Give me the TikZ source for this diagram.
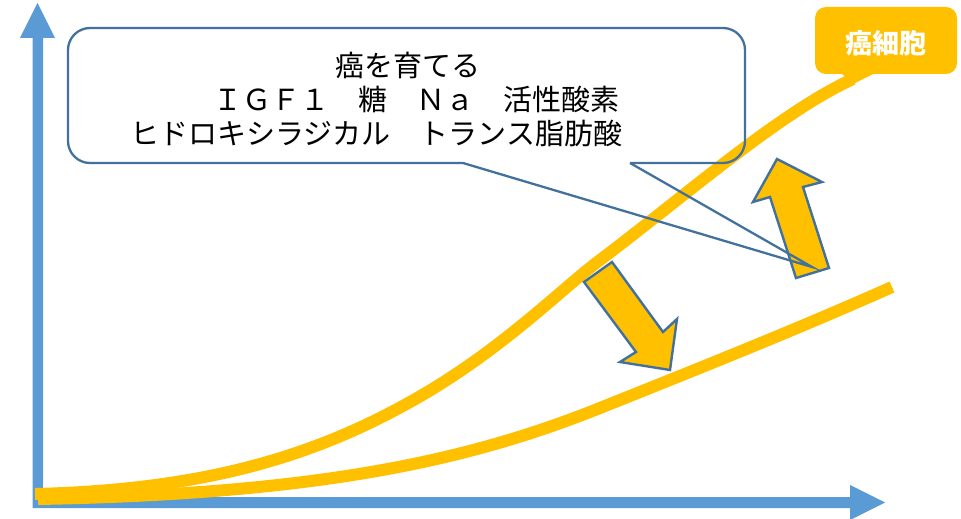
\documentclass[tikz,border=0pt]{standalone}
\usepackage{fontspec}
\newfontfamily\jp{Noto Sans CJK JP}
\definecolor{cyel}{HTML}{FFC000}
\definecolor{caxis}{HTML}{5B9BD5}
\definecolor{cline}{HTML}{41719C}
\tikzset{
  axisarrow/.style={fill=caxis, draw=none},
  growth/.style={draw=cyel, line width=12pt, line cap=butt},
  blockarrow/.style={fill=cyel, draw=cline, line width=2.4pt, line join=miter},
  calloutline/.style={draw=cline, line width=2.3pt},
  bodytext/.style={font=\jp\fontsize{29}{29}\selectfont, inner sep=0pt, anchor=west},
  tagtext/.style={font=\jp\bfseries\fontsize{27}{27}\selectfont, text=white, inner sep=0pt},
}
\begin{document}
\begin{tikzpicture}[x=1pt,y=-1pt]
\useasboundingbox (0,0) rectangle (961,519);
% axes
\fill[axisarrow] (32.5,508) -- (32.5,38) -- (20,38) -- (37.5,3) -- (55,38) -- (43,38) -- (43,497) -- (850,497) -- (850,485) -- (885,502.5) -- (850,520) -- (850,508) -- cycle;
% growth curves
\draw[growth] (35,494) .. controls (200,490) and (310,458) .. (410,402)
  .. controls (500,352) and (560,290) .. (600,260)
  .. controls (680,200) and (780,112) .. (853,79);
\draw[growth] (38,499) .. controls (320,494) and (470,460) .. (600,408)
  .. controls (700,368) and (800,328) .. (892,287);
% block arrows
\draw[blockarrow] (612,262) -- (663,332) -- (677,319) -- (670,370) -- (620,362) -- (636,352) -- (584,282) -- cycle;
\draw[blockarrow] (777,159) -- (822,182) -- (803,187) -- (829,268) -- (796,278) -- (770,197) -- (753,202) -- cycle;
% callout
\coordinate (tip) at (812,267);
\coordinate (pl) at (463,163);
\coordinate (pr) at (630,163);
\draw[calloutline, rounded corners=22pt] (pr) -- (745,163) -- (745,28) -- (68,28) -- (68,163) -- (pl);
\draw[calloutline, line join=miter] (pl) -- (tip) -- (pr);
\node[bodytext] (l1) at (335,65) {癌を育てる};
\node[bodytext] (l2) at (213,99) {ＩＧＦ１　糖　Ｎａ　活性酸素};
\node[bodytext] (l3) at (130,133) {ヒドロキシラジカル　トランス脂肪酸};
% cancer cell tag
\fill[cyel] (840,72) -- (853,84) -- (877,72) -- cycle;
\fill[cyel, rounded corners=11pt] (815,7) rectangle (957,74);
\node[tagtext] (tag) at (886,43) {癌細胞};
\end{tikzpicture}
\end{document}
